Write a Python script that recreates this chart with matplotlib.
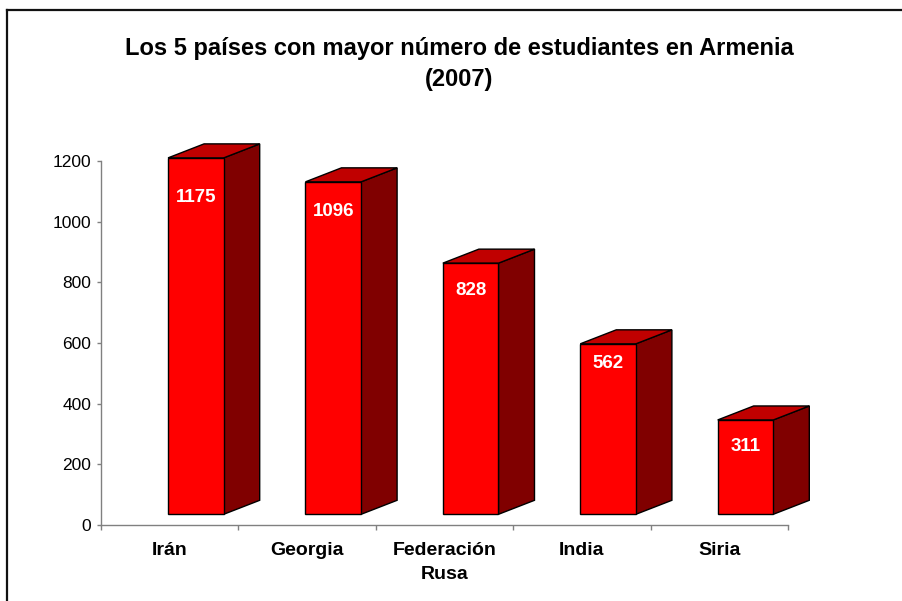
import matplotlib
matplotlib.use("Agg")
import matplotlib.pyplot as plt
from matplotlib.patches import Polygon, Rectangle
from matplotlib.lines import Line2D

# ---- data ----
categories = ["Irán", "Georgia", "Federación\nRusa", "India", "Siria"]
values = [1175, 1096, 828, 562, 311]
yticks = [0, 200, 400, 600, 800, 1000, 1200]
title_lines = ["Los 5 países con mayor número de estudiantes en Armenia", "(2007)"]

# ---- style ----
label_drop_px = [40, 30, 27, 20, 27]   # value label distance below bar top (pixels)

plt.rcParams['font.family'] = ['Liberation Sans', 'DejaVu Sans']

W, H = 903, 601
fig = plt.figure(figsize=(W / 100, H / 100), dpi=100)

# axes placement (pixels)
ax_left, ax_right = 101, 788
zero_px = 525
px_per_unit = 364 / 1200
ymax = 1265
top_px = zero_px - ymax * px_per_unit
ax = fig.add_axes([ax_left / W, (H - zero_px) / H,
                   (ax_right - ax_left) / W, (zero_px - top_px) / H])
n = len(categories)
ax.set_xlim(0, n)
ax.set_ylim(0, ymax)

# 3D bar styling
base = 10.7 / px_per_unit          # front face raised above floor
dx = 36 / ((ax_right - ax_left) / n)
dy = 14 / px_per_unit
bw = 0.405
front_c, top_c, side_c = "#FF0000", "#C00000", "#800000"
lw = 1.0

for i, v in enumerate(values):
    x0 = i + 0.5 - 0.012
    x1 = x0 + bw
    y0 = base
    y1 = base + v
    side = Polygon([(x1, y0), (x1 + dx, y0 + dy), (x1 + dx, y1 + dy), (x1, y1)],
                   closed=True, facecolor=side_c, edgecolor="black", lw=lw, clip_on=False)
    top = Polygon([(x0, y1), (x1, y1), (x1 + dx, y1 + dy), (x0 + dx, y1 + dy)],
                  closed=True, facecolor=top_c, edgecolor="black", lw=lw, clip_on=False)
    front = Rectangle((x0, y0), bw, v, facecolor=front_c, edgecolor="black",
                      lw=lw, clip_on=False)
    ax.add_patch(side)
    ax.add_patch(top)
    ax.add_patch(front)
    ax.annotate(str(v), xy=(x0 + bw / 2, y1), xytext=(0, -label_drop_px[i] * 0.72),
                textcoords="offset points", ha="center", va="center",
                color="white", fontsize=13.5, fontweight="bold")

# spines
for s in ("top", "right"):
    ax.spines[s].set_visible(False)
axis_c = "#808080"
ax.spines["left"].set_color(axis_c)
ax.spines["bottom"].set_color(axis_c)
ax.spines["left"].set_linewidth(1.0)
ax.spines["bottom"].set_linewidth(1.0)
ax.spines["left"].set_bounds(0, 1200)

ax.set_yticks(yticks)
ax.set_yticklabels([str(t) for t in yticks])
ax.tick_params(axis="y", direction="out", length=3, width=1, color=axis_c,
               labelsize=12.5, pad=4, labelcolor="black")

ax.set_xticks(range(n + 1))
ax.set_xticklabels([])
ax.tick_params(axis="x", which="major", direction="out", length=3.5, width=1, color=axis_c)
ax.set_xticks([i + 0.5 for i in range(n)], minor=True)
ax.set_xticklabels(categories, minor=True, fontsize=14, fontweight="bold",
                   linespacing=1.6)
ax.tick_params(axis="x", which="minor", length=0, pad=12)

# title (two lines, placed by baseline)
fig.text(459 / W, 1 - 54.5 / H, title_lines[0], ha="center", va="baseline",
         fontsize=17, fontweight="bold")
fig.text(459 / W, 1 - 86 / H, title_lines[1], ha="center", va="baseline",
         fontsize=17, fontweight="bold")

# outer border (top and left visible)
fig.add_artist(Line2D([7 / W, 7 / W], [0, 1 - 10 / H], transform=fig.transFigure,
                      color="#111111", lw=1.6))
fig.add_artist(Line2D([7 / W, 1], [1 - 10 / H, 1 - 10 / H], transform=fig.transFigure,
                      color="#111111", lw=1.6))

fig.savefig("out.png", dpi=100)
